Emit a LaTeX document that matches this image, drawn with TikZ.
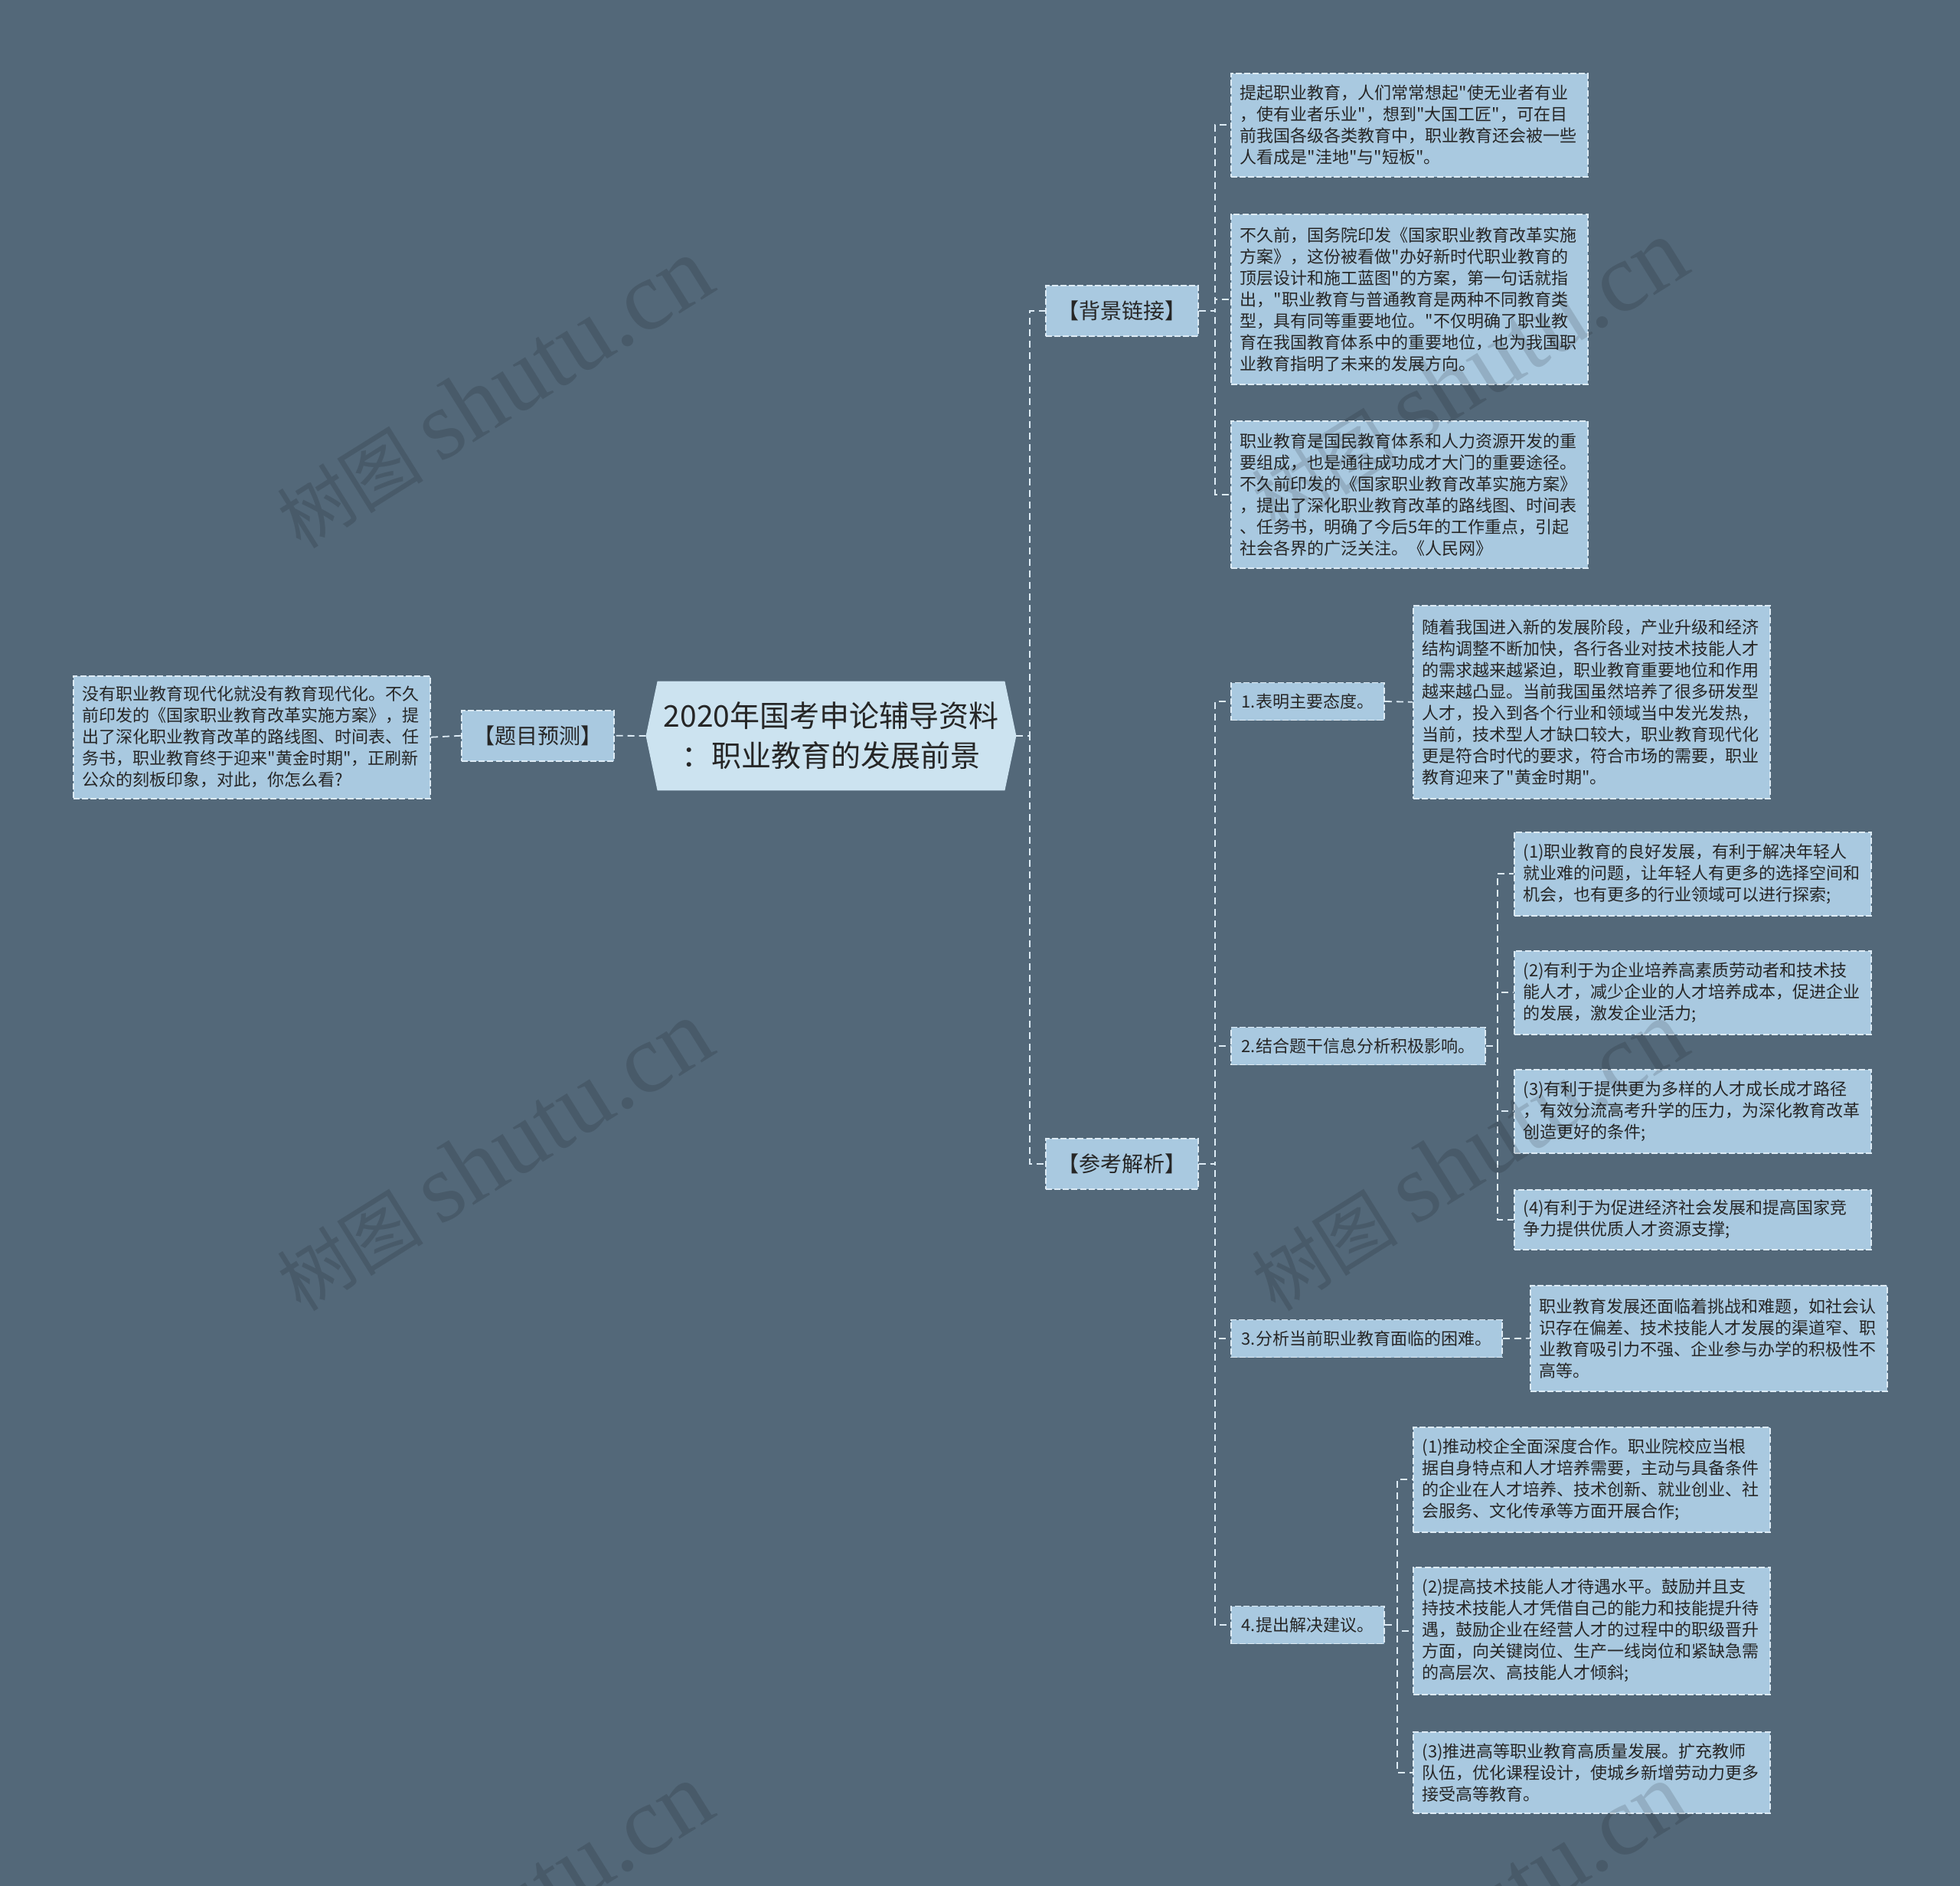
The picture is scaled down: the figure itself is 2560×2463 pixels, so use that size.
\documentclass[tikz,border=0pt]{standalone}
\usepackage{fontspec}
\setmainfont{Noto Sans CJK SC}
\newfontfamily\cjk{Noto Sans CJK SC}
\newfontfamily\wmlatin{Liberation Serif}
\usetikzlibrary{backgrounds}
\definecolor{bgc}{HTML}{536879}
\definecolor{boxc}{HTML}{A9C9E0}
\definecolor{ctrc}{HTML}{CCE3F0}
\definecolor{edgec}{HTML}{DDEBF5}
\definecolor{txtc}{HTML}{262626}
\tikzset{
 conn/.style={draw=edgec, line width=0.9pt, dash pattern=on 4.5pt off 3pt},
 boxbase/.style={draw=edgec, fill=boxc, text=txtc, line width=0.75pt, dash pattern=on 4pt off 1.6pt},
 leaf/.style={boxbase, font=\cjk\fontsize{11pt}{14pt}\selectfont, text width=221pt, align=left, inner xsep=6pt, inner ysep=0pt, anchor=north west},
 sub/.style={boxbase, font=\cjk\fontsize{11pt}{14pt}\selectfont, inner xsep=7pt, inner ysep=0pt, minimum height=24.5pt, anchor=west},
 topic/.style={boxbase, font=\cjk\fontsize{14pt}{17pt}\selectfont, minimum width=99.5pt, minimum height=33pt, inner sep=0pt, anchor=north west},
 ctrnode/.style={text=txtc, font=\cjk\fontsize{19.5pt}{26pt}\selectfont, align=center, minimum width=226.5pt, minimum height=71pt, inner sep=0pt},
 wm/.style={text=black, opacity=0.13, font=\cjk\fontsize{48pt}{52pt}\selectfont, rotate=32, inner sep=0pt},
}
\begin{document}
\begin{tikzpicture}[x=0.5pt,y=-0.5pt]
\useasboundingbox (0,0) rectangle (2560,2463);

% centre
\node[ctrnode] (ctr) at (1085.5,961) {2020年国考申论辅导资料\\：职业教育的发展前景};
\coordinate (ctrR) at ([xshift=7.5pt]ctr.east);
\coordinate (ctrL) at ([xshift=-7.5pt]ctr.west);

% level 1
\node[topic] (bg) at (1365,372) {【背景链接】};
\node[topic] (ck) at (1365,1486) {【参考解析】};
\node[topic] (tm) at (602,927) {【题目预测】};

% left leaf
\node[leaf, minimum height=80pt] (lf) at (95,882) {没有职业教育现代化就没有教育现代化。不久\\前印发的《国家职业教育改革实施方案》，提\\出了深化职业教育改革的路线图、时间表、任\\务书，职业教育终于迎来"黄金时期"，正刷新\\公众的刻板印象，对此，你怎么看?};

% background leaves
\node[leaf, minimum height=67.5pt] (b1) at (1607,95) {提起职业教育，人们常常想起"使无业者有业\\，使有业者乐业"，想到"大国工匠"，可在目\\前我国各级各类教育中，职业教育还会被一些\\人看成是"洼地"与"短板"。};
\node[leaf, minimum height=111pt] (b2) at (1607,279) {不久前，国务院印发《国家职业教育改革实施\\方案》，这份被看做"办好新时代职业教育的\\顶层设计和施工蓝图"的方案，第一句话就指\\出，"职业教育与普通教育是两种不同教育类\\型，具有同等重要地位。"不仅明确了职业教\\育在我国教育体系中的重要地位，也为我国职\\业教育指明了未来的发展方向。};
\node[leaf, minimum height=96pt] (b3) at (1607,549) {职业教育是国民教育体系和人力资源开发的重\\要组成，也是通往成功成才大门的重要途径。\\不久前印发的《国家职业教育改革实施方案》\\，提出了深化职业教育改革的路线图、时间表\\、任务书，明确了今后5年的工作重点，引起\\社会各界的广泛关注。《人民网》};

% level 2
\node[sub] (s1) at (1607,916) {1.表明主要态度。};
\node[sub] (s2) at (1607,1366) {2.结合题干信息分析积极影响。};
\node[sub] (s3) at (1607,1748) {3.分析当前职业教育面临的困难。};
\node[sub] (s4) at (1607,2122) {4.提出解决建议。};

% leaves of level 2
\node[leaf, minimum height=126pt] (c1) at (1845,790) {随着我国进入新的发展阶段，产业升级和经济\\结构调整不断加快，各行各业对技术技能人才\\的需求越来越紧迫，职业教育重要地位和作用\\越来越凸显。当前我国虽然培养了很多研发型\\人才，投入到各个行业和领域当中发光发热，\\当前，技术型人才缺口较大，职业教育现代化\\更是符合时代的要求，符合市场的需要，职业\\教育迎来了"黄金时期"。};

\node[leaf, minimum height=54.5pt] (d1) at (1977,1086) {(1)职业教育的良好发展，有利于解决年轻人\\就业难的问题，让年轻人有更多的选择空间和\\机会，也有更多的行业领域可以进行探索;};
\node[leaf, minimum height=54.5pt] (d2) at (1977,1241) {(2)有利于为企业培养高素质劳动者和技术技\\能人才，减少企业的人才培养成本，促进企业\\的发展，激发企业活力;};
\node[leaf, minimum height=54.5pt] (d3) at (1977,1396) {(3)有利于提供更为多样的人才成长成才路径\\，有效分流高考升学的压力，为深化教育改革\\创造更好的条件;};
\node[leaf, minimum height=39pt] (d4) at (1977,1553) {(4)有利于为促进经济社会发展和提高国家竞\\争力提供优质人才资源支撑;};

\node[leaf, minimum height=69pt] (f1) at (1998,1678) {职业教育发展还面临着挑战和难题，如社会认\\识存在偏差、技术技能人才发展的渠道窄、职\\业教育吸引力不强、企业参与办学的积极性不\\高等。};

\node[leaf, minimum height=68.5pt] (e1) at (1845,1863) {(1)推动校企全面深度合作。职业院校应当根\\据自身特点和人才培养需要，主动与具备条件\\的企业在人才培养、技术创新、就业创业、社\\会服务、文化传承等方面开展合作;};
\node[leaf, minimum height=83pt] (e2) at (1845,2046) {(2)提高技术技能人才待遇水平。鼓励并且支\\持技术技能人才凭借自己的能力和技能提升待\\遇，鼓励企业在经营人才的过程中的职级晋升\\方面，向关键岗位、生产一线岗位和紧缺急需\\的高层次、高技能人才倾斜;};
\node[leaf, minimum height=53pt] (e3) at (1845,2261) {(3)推进高等职业教育高质量发展。扩充教师\\队伍，优化课程设计，使城乡新增劳动力更多\\接受高等教育。};

% trunk coordinates
\coordinate (mt) at (1345,0);
\coordinate (bt) at (1587,0);
\coordinate (dt) at (1956,0);
\coordinate (et) at (1825,0);

% connectors
\draw[conn] (ctrR) -- (ctrR -| mt) |- (bg.west);
\draw[conn] (ctrR) -- (ctrR -| mt) |- (ck.west);
\draw[conn] (ctrL) -- (tm.east);
\draw[conn] (tm.west) -- (lf.east);
\foreach \n in {b1,b2,b3} \draw[conn] (bg.east) -- (bg.east -| bt) |- (\n.west);
\foreach \n in {s1,s2,s3,s4} \draw[conn] (ck.east) -- (ck.east -| bt) |- (\n.west);
\draw[conn] (s1.east) -- (c1.west);
\foreach \n in {d1,d2,d3,d4} \draw[conn] (s2.east) -- (s2.east -| dt) |- (\n.west);
\draw[conn] (s3.east) -- (f1.west);
\foreach \n in {e1,e2,e3} \draw[conn] (s4.east) -- (s4.east -| et) |- (\n.west);

\begin{scope}[on background layer]
\fill[bgc] (0,0) rectangle (2560,2463);
\fill[ctrc] (ctr.north west) -- (ctr.north east) -- (ctrR) -- (ctr.south east) -- (ctr.south west) -- (ctrL) -- cycle;
\end{scope}

% watermarks
\begin{scope}
\clip (0,0) rectangle (2560,2463);
\foreach \p in {(645,514),(1918,490),(645,1510),(1918,1510),(645,2506),(1918,2506)}
  \node[wm] at \p {树图 {\wmlatin\fontsize{64pt}{66pt}\selectfont shutu.cn}};
\end{scope}
\end{tikzpicture}
\end{document}
